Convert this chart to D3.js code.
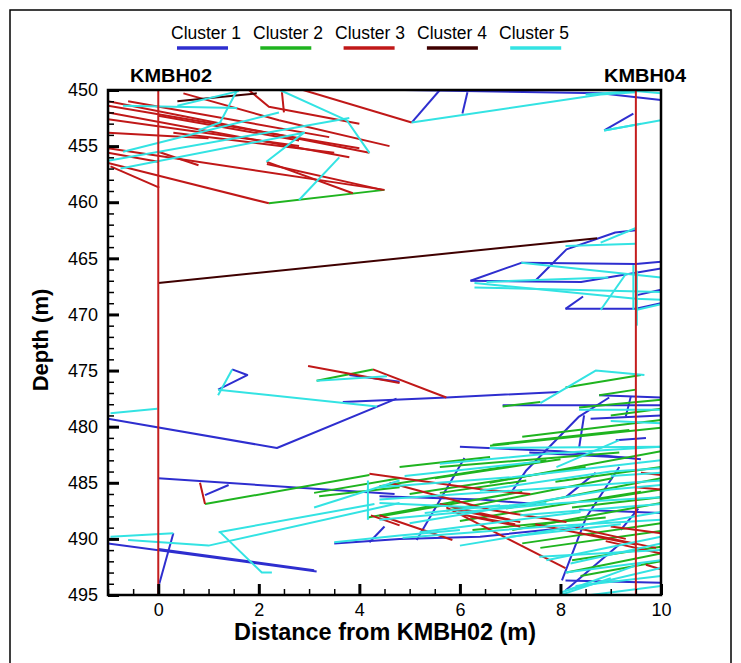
<!DOCTYPE html>
<html><head><meta charset="utf-8">
<script src="https://cdn.jsdelivr.net/npm/d3@7"></script>
<style>body{margin:0;background:#fff}svg{display:block}</style>
</head><body>
<svg id="c" width="741" height="663"></svg>
<script>
const clusterNames = ["Cluster 1","Cluster 2","Cluster 3","Cluster 4","Cluster 5"];
const clusterColors = ["#2e2ecf","#1fb41f","#c01818","#3f0000","#33e3e3"];
const xTicks = [0,2,4,6,8,10];
const yTicks = [450,455,460,465,470,475,480,485,490,495];
const boreholes = [{name:"KMBH02", x:0}, {name:"KMBH04", x:9.5}];

// Each series: list of traces, each trace a list of [distance (m), depth (m)]
const cluster1 = [
 [[4.9,450.0],[8.8,450.3],[10,450.9]],
 [[5.6,450.0],[5.04,452.9]],
 [[6.15,450.2],[6.05,452.1]],
 [[8.87,453.6],[9.45,452.1]],
 [[6.21,467.0],[8.41,467.1],[10,465.9]],
 [[6.21,467.0],[7.22,465.4],[9.5,465.5],[10,465.3]],
 [[7.5,467.0],[8.12,464.2],[9.09,462.7],[9.5,462.5]],
 [[8.1,469.5],[9.5,469.5],[10,469.0]],
 [[8.1,469.5],[8.45,468.4]],
 [[9.5,468.3],[10,467.8]],
 [[-1,479.3],[2.36,481.9],[4.74,477.5]],
 [[3.67,477.8],[5.73,477.4],[7.98,476.9]],
 [[1.47,474.9],[1.77,475.4],[1.19,476.7]],
 [[3.8,475.4],[4.8,476.0]],
 [[6.85,478.1],[10,478.1]],
 [[8.77,477.2],[10,477.4]],
 [[9.4,477.3],[9.3,479.1]],
 [[7.0,486.0],[7.32,483.9],[8.37,479.1],[8.97,477.4]],
 [[8.47,479.0],[8.37,481.9]],
 [[7.38,482.3],[9.42,482.8]],
 [[6.0,481.8],[8.0,482.2],[9.6,482.9]],
 [[8.6,479.3],[10,479.0]],
 [[9.1,481.2],[9.7,481.0]],
 [[0,484.6],[4.7,486.0]],
 [[0.93,486.1],[1.4,485.2]],
 [[-1,490.4],[3.15,492.9]],
 [[0,490.9],[3.1,492.8]],
 [[0.02,494.0],[0.3,489.5]],
 [[3.5,490.4],[4.8,490.0],[6.4,489.8],[8.4,488.9]],
 [[4.4,486.2],[6.4,486.5],[7.52,486.9]],
 [[5.14,490.1],[6.09,482.8]],
 [[8.03,493.7],[8.51,488.1],[9.17,483.6]],
 [[8.1,494.6],[9.17,490.5]],
 [[8.1,493.7],[10,493.9]],
 [[8.37,487.4],[10,487.7]],
 [[4.2,490.3],[4.5,488.9]],
 [[8.1,486.3],[8.7,484.1]],
 [[9.2,489.2],[9.55,487.3]]
];
const cluster2 = [
 [[2.2,460.1],[4.5,458.9]],
 [[3.15,475.9],[4.27,474.9]],
 [[8.1,476.5],[9.6,475.4]],
 [[6.85,478.2],[7.6,477.8]],
 [[8.77,477.2],[9.5,476.7]],
 [[8.37,478.3],[10,477.6]],
 [[9.0,479.0],[10,478.4]],
 [[6.65,481.6],[9.37,480.3]],
 [[7.24,480.9],[10,479.4]],
 [[6.6,481.7],[10,480.1]],
 [[0.93,486.9],[4.2,484.3]],
 [[3.1,485.9],[4.8,484.6]],
 [[3.2,486.2],[4.8,485.4]],
 [[4.4,485.3],[7.72,483.0]],
 [[6.59,485.0],[10,482.2]],
 [[5.6,483.6],[9.17,482.3]],
 [[5.6,485.9],[7.32,484.8]],
 [[4.4,488.0],[7.24,485.8]],
 [[5.73,487.5],[9.03,484.6]],
 [[6.92,487.3],[10,484.6]],
 [[8.23,487.2],[10,486.3]],
 [[7.04,489.2],[10,486.8]],
 [[4.17,488.1],[6.0,486.6]],
 [[6.25,489.2],[8.9,488.1]],
 [[7.24,490.4],[10,488.6]],
 [[8.23,491.9],[10,490.7]],
 [[8.12,493.0],[10,491.3]],
 [[5.0,486.0],[8.5,483.6]],
 [[6.0,488.4],[9.6,485.8]],
 [[7.6,490.8],[10,489.3]],
 [[8.4,493.3],[10,492.0]],
 [[5.5,484.6],[8.0,482.9]],
 [[7.9,484.9],[10,483.6]],
 [[8.6,486.6],[10,485.6]],
 [[4.8,483.6],[6.6,482.7]]
];
const cluster3 = [
 [[-1,451.0],[4.2,455.6]],
 [[-1,451.4],[4.0,455.2]],
 [[-0.6,451.0],[3.4,454.2]],
 [[-1,452.0],[3.8,456.0]],
 [[-1,452.6],[2.8,455.0]],
 [[0.5,450.3],[2.4,452.7],[4.6,455.0]],
 [[-1,453.8],[1.0,454.3]],
 [[-1,455.2],[4.5,458.9]],
 [[-1,456.5],[2.2,460.1]],
 [[2.16,456.4],[3.87,459.2]],
 [[2.16,456.6],[4.46,458.9]],
 [[2.88,450.0],[5.04,452.9]],
 [[2.46,450.2],[2.5,452.0]],
 [[0.0,452.3],[2.8,454.5]],
 [[0.3,453.8],[3.5,455.6]],
 [[0.0,455.5],[0.8,456.7]],
 [[1.8,450.0],[2.2,451.5],[4.0,453.0]],
 [[-1,455.6],[0,456.4]],
 [[-0.95,456.8],[0.02,458.7]],
 [[2.98,474.6],[4.8,476.1]],
 [[4.27,474.9],[5.73,477.4]],
 [[0.83,485.0],[0.93,486.9]],
 [[4.2,484.2],[6.45,485.6],[7.4,486.0]],
 [[4.6,485.0],[6.59,487.4],[8.12,488.5]],
 [[4.4,487.9],[5.85,490.1]],
 [[5.73,487.2],[8.1,492.6]],
 [[5.9,487.4],[7.2,488.5]],
 [[6.0,487.8],[7.1,488.7]],
 [[6.2,488.0],[7.2,488.9]],
 [[5.6,486.9],[7.0,488.3]],
 [[7.5,488.7],[9.5,490.5]],
 [[8.3,489.0],[9.3,490.0]],
 [[8.6,489.6],[9.9,490.8]],
 [[8.9,490.2],[10,491.3]],
 [[9.0,488.9],[10,489.5]],
 [[9.6,484.1],[10,484.3]],
 [[9.7,492.3],[10,492.7]],
 [[4.23,487.9],[4.8,488.8]],
 [[9.5,485.4],[10,485.6]]
];
const cluster4 = [
 [[0,467.2],[8.73,463.2]],
 [[0.38,451.0],[1.96,450.3]]
];
const cluster5 = [
 [[-1,456.3],[3.8,452.5]],
 [[-0.75,457.0],[2.9,453.8],[2.15,456.4]],
 [[-0.7,455.5],[2.4,452.0]],
 [[-0.7,451.4],[1.57,451.6]],
 [[1.57,450.0],[1.23,452.9],[0.8,453.6]],
 [[2.42,450.0],[3.75,452.7],[4.2,455.6]],
 [[3.6,456.0],[2.8,459.8]],
 [[0.38,451.4],[1.6,450.1]],
 [[5.04,452.9],[8.8,450.4],[9.5,450.2]],
 [[8.87,453.6],[10,452.7]],
 [[8.87,453.6],[9.6,453.0]],
 [[8.5,450.4],[9.5,450.1],[10,450.3]],
 [[6.29,467.2],[9.5,468.6],[10,468.7]],
 [[6.29,467.6],[10,468.0]],
 [[7.22,465.4],[10,466.7]],
 [[8.1,463.9],[9.5,463.7]],
 [[8.8,463.6],[9.5,462.3]],
 [[8.8,469.6],[9.3,466.4]],
 [[9.45,465.6],[9.45,469.6]],
 [[9.52,466.1],[9.52,471.0]],
 [[9.5,469.6],[10,469.1]],
 [[6.53,467.1],[8.95,466.7]],
 [[-0.95,478.8],[-0.02,478.4]],
 [[1.19,476.7],[4.35,478.2]],
 [[1.19,477.2],[1.47,474.9]],
 [[3.15,475.9],[4.55,475.5]],
 [[7.6,477.9],[8.7,475.0],[9.67,475.4]],
 [[8.37,478.5],[10,478.5]],
 [[7.92,483.6],[9.17,481.2]],
 [[6.59,481.9],[10,481.8]],
 [[5.6,483.3],[7.78,482.4],[10,481.8]],
 [[9.0,479.5],[10,479.7]],
 [[-0.95,489.8],[0.3,489.5]],
 [[-0.6,490.1],[1.0,490.6],[4.8,486.8]],
 [[1.23,489.4],[2.06,493.0],[2.26,493.0]],
 [[1.2,489.4],[4.3,486.9]],
 [[3.5,490.3],[4.8,489.7],[6.0,489.2]],
 [[3.1,487.2],[4.8,484.8]],
 [[4.17,484.8],[4.17,488.3]],
 [[4.4,485.4],[7.04,484.5],[10,483.0]],
 [[4.4,486.5],[10,484.8]],
 [[4.4,486.8],[6.39,487.2],[7.72,486.8]],
 [[4.4,488.3],[8.03,486.8],[10,486.3]],
 [[4.86,489.9],[7.72,488.9],[10,488.3]],
 [[7.72,491.9],[10,489.8]],
 [[7.58,491.6],[10,491.0]],
 [[8.1,493.0],[10,491.9]],
 [[8.1,494.6],[10,492.6]],
 [[8.0,495.0],[9.0,493.5]],
 [[5.2,489.4],[8.4,487.6]],
 [[5.0,488.6],[9.0,485.6],[10,485.2]],
 [[6.0,490.6],[10,487.6]],
 [[7.0,489.8],[9.2,488.7]],
 [[8.2,492.2],[10,490.4]],
 [[8.3,494.2],[10,493.3]],
 [[8.0,494.8],[9.6,492.2]],
 [[8.6,495.0],[10,494.2]],
 [[6.4,485.7],[9.0,484.0],[10,483.7]],
 [[7.2,487.9],[10,486.9]],
 [[4.9,484.4],[7.6,483.1]],
 [[9.0,484.4],[10,484.1]],
 [[5.3,487.7],[6.8,487.0]]
];
const series = [cluster1, cluster2, cluster3, cluster4, cluster5];

const svg = d3.select("#c");
const font = "'Liberation Sans', Arial, sans-serif";
const L = 108, R = 661, T = 90, B = 595;
const x = d3.scaleLinear().domain([-1,10]).range([L,R]);
const y = d3.scaleLinear().domain([450,495]).range([T,B]);

svg.append("rect").attr("x",10).attr("y",10).attr("width",721).attr("height",700)
  .attr("fill","none").attr("stroke","#000").attr("stroke-width",1.5);

svg.append("defs").append("clipPath").attr("id","clip")
  .append("rect").attr("x",L).attr("y",T).attr("width",R-L).attr("height",B-T);

const line = d3.line().x(d=>x(d[0])).y(d=>y(d[1]));
const plot = svg.append("g").attr("clip-path","url(#clip)");
series.forEach((s,i)=>{
  plot.append("g").selectAll("path").data(s).join("path")
    .attr("d",line).attr("fill","none").attr("stroke",clusterColors[i])
    .attr("stroke-width",2).attr("stroke-linejoin","round");
});
// boreholes
plot.selectAll("line.bh").data(boreholes).join("line")
  .attr("x1",d=>x(d.x)).attr("x2",d=>x(d.x)).attr("y1",T).attr("y2",B)
  .attr("stroke","#c41e1e").attr("stroke-width",2);

// axes
const yMinor = d3.range(450,496,1).filter(v=>v%5!==0);
const xMinor = d3.range(-1,10.01,0.5).filter(v=>v%2!==0);
const gy = svg.append("g").attr("transform",`translate(${L},0)`)
  .call(d3.axisLeft(y).tickValues(yTicks).tickSize(-11).tickPadding(10).tickFormat(d3.format("d")));
const gy2 = svg.append("g").attr("transform",`translate(${L},0)`)
  .call(d3.axisLeft(y).tickValues(yMinor).tickSize(-6).tickFormat(""));
const gx = svg.append("g").attr("transform",`translate(0,${B})`)
  .call(d3.axisBottom(x).tickValues(xTicks).tickSize(-11).tickPadding(8).tickFormat(d3.format("d")));
const gx2 = svg.append("g").attr("transform",`translate(0,${B})`)
  .call(d3.axisBottom(x).tickValues(xMinor).tickSize(-6).tickFormat(""));
[gy,gy2,gx,gx2].forEach(g=>{ g.select(".domain").remove(); });
[gy,gx].forEach(g=>g.selectAll(".tick line").attr("stroke-width",3));
[gy2,gx2].forEach(g=>g.selectAll(".tick line").attr("stroke-width",1.5));
[gy,gx].forEach(g=>g.selectAll("text").attr("font-family",font).attr("font-size",18).attr("fill","#000"));

svg.append("rect").attr("x",L).attr("y",T).attr("width",R-L).attr("height",B-T)
  .attr("fill","none").attr("stroke","#000").attr("stroke-width",2.5);

// borehole labels
svg.selectAll("text.bhl").data(boreholes).join("text")
  .attr("x",(d,i)=> i===0 ? 130 : 604).attr("y",82)
  .attr("font-family",font).attr("font-weight","bold").attr("font-size",19)
  .attr("textLength",82).attr("lengthAdjust","spacingAndGlyphs")
  .text(d=>d.name);

// axis titles
svg.append("text").attr("x",385).attr("y",640).attr("text-anchor","middle")
  .attr("font-family",font).attr("font-weight","bold").attr("font-size",23)
  .attr("textLength",302).attr("lengthAdjust","spacingAndGlyphs")
  .text("Distance from KMBH02 (m)");
svg.append("text").attr("transform","translate(48,340) rotate(-90)").attr("text-anchor","middle")
  .attr("font-family",font).attr("font-weight","bold").attr("font-size",22)
  .text("Depth (m)");

// legend
const lg = svg.append("g");
clusterNames.forEach((n,i)=>{
  lg.append("text").attr("x",171+i*82).attr("y",39).attr("font-family",font)
    .attr("font-size",18).attr("textLength",70).attr("lengthAdjust","spacingAndGlyphs").text(n);
  lg.append("line").attr("x1",177+i*83.3).attr("x2",228+i*83.3).attr("y1",48).attr("y2",48)
    .attr("stroke",clusterColors[i]).attr("stroke-width",3.5);
});
</script>
</body></html>
